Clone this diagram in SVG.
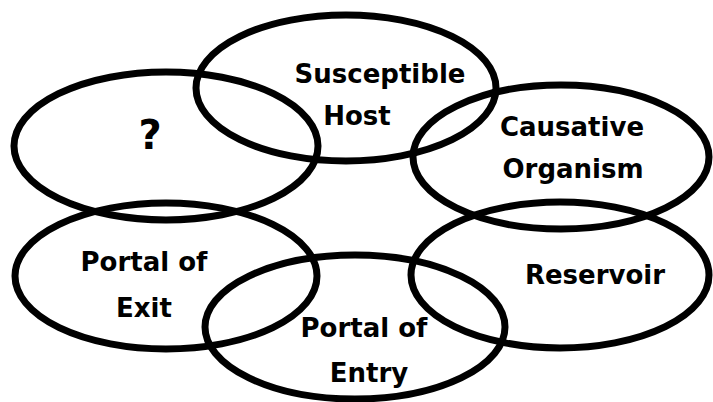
<svg xmlns="http://www.w3.org/2000/svg" width="713" height="402" viewBox="0 0 713 402">
<style>
.e{fill:none;stroke:#000;stroke-width:7}
.t{font-family:"Comic Sans MS","DejaVu Sans",sans-serif;font-weight:bold;font-size:26px;fill:#000;text-anchor:middle}
.q{font-size:40px}
</style>
<rect width="713" height="402" fill="#fff"/>
<g id="unknown"><ellipse class="e" cx="166" cy="146" rx="152" ry="74"/><text class="t q" x="150" y="149">?</text></g>
<g id="susceptible-host"><ellipse class="e" cx="346" cy="88" rx="150" ry="73"/><text class="t" x="380" y="83">Susceptible</text><text class="t" x="357" y="125">Host</text></g>
<g id="causative-organism"><ellipse class="e" cx="561" cy="157" rx="148" ry="72"/><text class="t" x="572" y="136">Causative</text><text class="t" x="573" y="178">Organism</text></g>
<g id="portal-of-exit"><ellipse class="e" cx="166" cy="276" rx="151" ry="73"/><text class="t" x="144" y="271">Portal of</text><text class="t" x="144" y="317">Exit</text></g>
<g id="portal-of-entry"><ellipse class="e" cx="355" cy="327" rx="150" ry="72"/><text class="t" x="364" y="337">Portal of</text><text class="t" x="369" y="382">Entry</text></g>
<g id="reservoir"><ellipse class="e" cx="560" cy="275" rx="149" ry="73"/><text class="t" x="595" y="284">Reservoir</text></g>
<g id="connectors"></g>
</svg>
